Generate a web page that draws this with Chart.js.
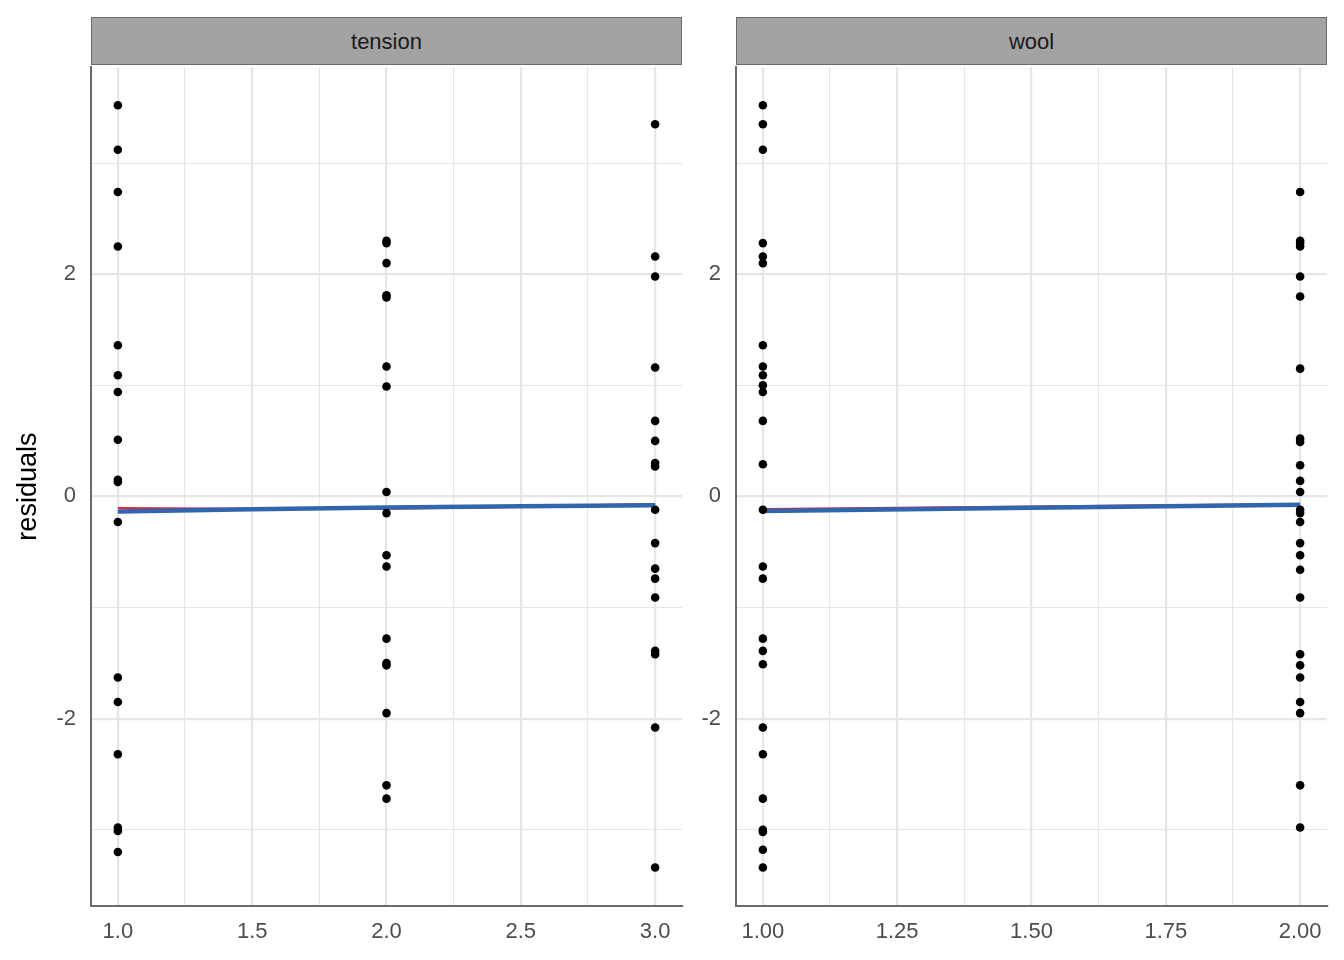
<!DOCTYPE html>
<html>
<head>
<meta charset="utf-8">
<script src="https://cdn.jsdelivr.net/npm/chart.js@4"></script>
<style>
    body { margin: 0; background: #fff; font-family: "Liberation Sans", Arial, sans-serif; }
    .wrap { position: relative; width: 1344px; height: 960px; }
    .strip {
        position: absolute; top: 17px; height: 46px;
        background: #a3a3a3; border: 1px solid #6b6b6b;
        color: #1a1a1a; font-size: 22px; line-height: 48px; text-align: center;
    }
    .panel { position: absolute; top: 39px; height: 921px; }
</style>
</head>
<body>
<div class="wrap">
    <div class="panel" style="left:0; width:690px;"><canvas id="tension-chart"></canvas></div>
    <div class="panel" style="left:700px; width:644px;"><canvas id="wool-chart"></canvas></div>
    <div class="strip" style="left:91px; width:589px;">tension</div>
    <div class="strip" style="left:736px; width:589px;">wool</div>
</div>
<script>
// Residuals by tension level (1, 2, 3)
const tension1 = [3.52, 3.12, 2.74, 2.25, 1.36, 1.09, 0.94, 0.51, 0.15, 0.13, -0.23, -1.63, -1.85, -2.32, -2.98, -3.01, -3.20];
const tension2 = [2.30, 2.28, 2.10, 1.81, 1.79, 1.17, 0.99, 0.04, -0.15, -0.53, -0.63, -1.28, -1.50, -1.52, -1.95, -2.60, -2.72];
const tension3 = [3.35, 2.16, 1.98, 1.16, 0.68, 0.50, 0.30, 0.27, -0.12, -0.42, -0.65, -0.74, -0.91, -1.39, -1.42, -2.08, -3.34];

// Residuals by wool type (1, 2)
const wool1 = [3.52, 3.35, 3.12, 2.28, 2.16, 2.10, 1.36, 1.17, 1.09, 1.00, 0.94, 0.68, 0.29, -0.12, -0.63, -0.74, -1.28, -1.39, -1.51, -2.08, -2.32, -2.72, -3.00, -3.02, -3.18, -3.34];
const wool2 = [2.74, 2.30, 2.28, 2.25, 1.98, 1.80, 1.15, 0.52, 0.49, 0.28, 0.14, 0.04, -0.12, -0.15, -0.23, -0.42, -0.53, -0.66, -0.91, -1.42, -1.52, -1.63, -1.85, -1.95, -2.60, -2.98];

// Smooth fits (red = loess, blue = lm)
const tensionX = [1, 2, 3];
const tensionRed = [-0.105, -0.11, -0.068];
const tensionBlue = [-0.135, -0.10, -0.08];
const woolX = [1, 2];
const woolRed = [-0.112, -0.068];
const woolBlue = [-0.13, -0.075];

const yTicks = [-2, 0, 2];

function toPoints(x, ys) {
    return ys.map(y => ({ x: x, y: y }));
}

function lineData(xs, ys) {
    return xs.map((x, i) => ({ x: x, y: ys[i] }));
}

const tickFont = { family: '"Liberation Sans", Arial, sans-serif', size: 22 };

function makeChart(id, groups, fitX, redY, blueY, xOpts) {
    const points = [];
    groups.forEach((g, i) => points.push(...toPoints(i + 1, g)));

    return new Chart(document.getElementById(id), {
        type: 'scatter',
        data: {
            datasets: [
                {
                    data: points,
                    backgroundColor: '#000',
                    borderWidth: 0,
                    pointRadius: 4.3,
                    order: 0
                },
                {
                    type: 'line',
                    data: lineData(fitX, redY),
                    borderColor: '#d9263f',
                    borderWidth: 2,
                    pointRadius: 0,
                    tension: 0.4,
                    order: 2
                },
                {
                    type: 'line',
                    data: lineData(fitX, blueY),
                    borderColor: '#3166ae',
                    borderWidth: 4.5,
                    pointRadius: 0,
                    tension: 0.4,
                    order: 1
                }
            ]
        },
        options: {
            responsive: true,
            maintainAspectRatio: false,
            animation: false,
            layout: { padding: { top: 0, right: xOpts.rightPad, left: 0, bottom: 0 } },
            plugins: { legend: { display: false }, tooltip: { enabled: false } },
            scales: {
                x: {
                    type: 'linear',
                    min: xOpts.min,
                    max: xOpts.max,
                    afterFit: s => { s.height = 54; },
                    afterBuildTicks: s => {
                        s.ticks = xOpts.ticks.map(v => ({ value: v }));
                    },
                    border: { display: true, color: '#6b6b6b', width: 2 },
                    grid: {
                        drawTicks: false,
                        color: '#e6e6e6',
                        lineWidth: ctx => (xOpts.major.includes(ctx.tick.value) ? 2.2 : 1.1)
                    },
                    ticks: {
                        padding: 13,
                        color: '#4d4d4d',
                        font: tickFont,
                        maxRotation: 0,
                        autoSkip: false,
                        callback: v => (xOpts.major.includes(v) ? v.toFixed(xOpts.digits) : '')
                    }
                },
                y: {
                    type: 'linear',
                    min: -3.686,
                    max: 3.863,
                    afterFit: s => { s.width = xOpts.yWidth; },
                    afterBuildTicks: s => {
                        s.ticks = [-3, -2, -1, 0, 1, 2, 3].map(v => ({ value: v }));
                    },
                    border: { display: true, color: '#6b6b6b', width: 2 },
                    grid: {
                        drawTicks: false,
                        color: '#e6e6e6',
                        lineWidth: ctx => (yTicks.includes(ctx.tick.value) ? 2.2 : 1.1)
                    },
                    ticks: {
                        padding: 15,
                        color: '#4d4d4d',
                        font: tickFont,
                        callback: v => (yTicks.includes(v) ? String(v) : '')
                    },
                    title: {
                        display: xOpts.showTitle,
                        text: 'residuals',
                        color: '#000',
                        font: { family: '"Liberation Sans", Arial, sans-serif', size: 27 },
                        padding: { top: 12, bottom: 0 }
                    }
                }
            }
        }
    });
}

makeChart('tension-chart', [tension1, tension2, tension3], tensionX, tensionRed, tensionBlue, {
    min: 0.9, max: 3.1,
    ticks: [1, 1.25, 1.5, 1.75, 2, 2.25, 2.5, 2.75, 3],
    major: [1, 1.5, 2, 2.5, 3],
    digits: 1,
    rightPad: 8,
    yWidth: 91,
    showTitle: true
});

makeChart('wool-chart', [wool1, wool2], woolX, woolRed, woolBlue, {
    min: 0.95, max: 2.05,
    ticks: [1, 1.125, 1.25, 1.375, 1.5, 1.625, 1.75, 1.875, 2],
    major: [1, 1.25, 1.5, 1.75, 2],
    digits: 2,
    rightPad: 17,
    yWidth: 36,
    showTitle: false
});
</script>
</body>
</html>
